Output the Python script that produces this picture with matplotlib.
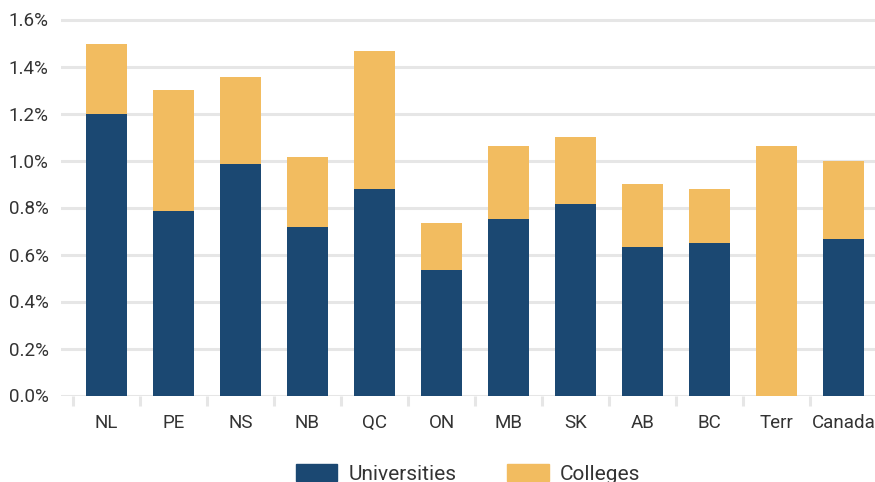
import matplotlib
matplotlib.use("Agg")
import matplotlib.pyplot as plt
from matplotlib.patches import Patch
import numpy as np

regions = ["NL", "PE", "NS", "NB", "QC", "ON", "MB", "SK", "AB", "BC", "Terr", "Canada"]
universities = [1.20, 0.783, 0.983, 0.715, 0.877, 0.532, 0.749, 0.813, 0.630, 0.647, 0.0, 0.668]
colleges_total = [1.494, 1.298, 1.357, 1.017, 1.468, 0.736, 1.060, 1.102, 0.898, 0.877, 1.060, 1.000]
colleges = [t - u for t, u in zip(colleges_total, universities)]
yticks = [0.0, 0.2, 0.4, 0.6, 0.8, 1.0, 1.2, 1.4, 1.6]

navy = "#1B4872"
gold = "#F2BC60"
grid_c = "#E6E6E6"
text_c = "#333333"

plt.rcParams['font.family'] = ['Roboto', 'DejaVu Sans']

W, H = 875, 482
fig = plt.figure(figsize=(W / 100, H / 100), dpi=100)
y0_px, ytop_px = 395.5, 14.8
ax = fig.add_axes([61 / W, 1 - y0_px / H, (875 - 61) / W, (y0_px - ytop_px) / H])

x = np.arange(len(regions))
ax.bar(x, universities, width=0.6, color=navy, zorder=3, label="Universities")
ax.bar(x, colleges, width=0.6, bottom=universities, color=gold, zorder=3, label="Colleges")

ax.set_xlim(-0.5 - 12 / 67, -0.5 + (875 - 73) / 67)
ax.set_ylim(0, 1.62)
ax.set_yticks(yticks)
ax.set_yticklabels([f"{v:.1f}%" for v in yticks])
ax.yaxis.grid(True, color=grid_c, linewidth=2.2, zorder=0)
ax.set_axisbelow(True)

ax.set_xticks(x)
ax.set_xticklabels(regions)
ax.set_xticks(np.arange(-0.5, len(regions) - 0.5, 1), minor=True)
ax.tick_params(axis='x', which='major', length=0, pad=13, labelsize=13.5, labelcolor=text_c)
ax.tick_params(axis='x', which='minor', length=7.5, width=2.2, color=grid_c, direction='out')
ax.tick_params(axis='y', length=0, pad=9, labelsize=13.5, labelcolor=text_c)

for s in ax.spines.values():
    s.set_visible(False)

handles = [Patch(color=navy, label="Universities"), Patch(color=gold, label="Colleges")]
fig.legend(handles=handles, loc='upper center', bbox_to_anchor=((61 + 875) / 2 / W, 1 - 464 / H), ncol=2,
           frameon=False, fontsize=15, handlelength=2.0, handleheight=0.85,
           handletextpad=0.53, columnspacing=2.45, borderpad=0, borderaxespad=0,
           labelcolor=text_c)

fig.savefig("out.png", dpi=100)
